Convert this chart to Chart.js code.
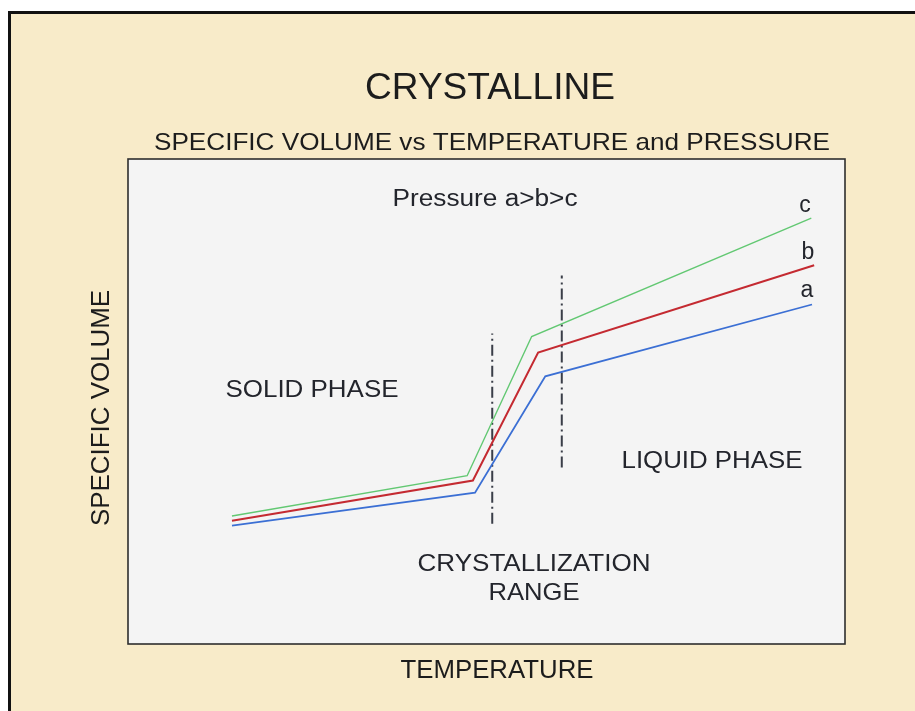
<!DOCTYPE html>
<html>
<head>
<meta charset="utf-8">
<title>Crystalline</title>
<script src="https://cdn.jsdelivr.net/npm/chart.js@4.4.1/dist/chart.umd.min.js"></script>
<style>
  html, body { margin: 0; padding: 0; background: #ffffff; }
  #grafica { display: block; }
</style>
</head>
<body>
<canvas id="grafica" width="915" height="711"></canvas>
<script>
// ── Datos (unidades relativas 0–100) ─────────────────────────────────────────
const tempA = [14.5, 48.4, 58.2, 95.4];
const volA  = [24.4, 31.2, 55.2, 70.0];
const tempB = [14.5, 48.1, 57.2, 95.7];
const volB  = [25.4, 33.7, 60.1, 78.1];
const tempC = [14.5, 47.3, 56.3, 95.3];
const volC  = [26.4, 34.7, 63.4, 87.8];

// Límites del rango de cristalización (líneas punto-raya)
const rangoInicioT = [50.8, 50.8];
const rangoInicioV = [24.8, 64.0];
const rangoFinT    = [60.5, 60.5];
const rangoFinV    = [36.4, 76.0];

const serieNombres = ['a', 'b', 'c'];
const titulo    = 'CRYSTALLINE';
const subtitulo = 'SPECIFIC VOLUME vs TEMPERATURE and PRESSURE';
const ejeX      = 'TEMPERATURE';
const ejeY      = 'SPECIFIC VOLUME';
const notaPresion = 'Pressure a>b>c';
const faseSolida  = 'SOLID PHASE';
const faseLiquida = 'LIQUID PHASE';
const rangoTexto  = ['CRYSTALLIZATION', 'RANGE'];

const puntos = (xs, ys) => xs.map((x, i) => ({ x, y: ys[i] }));

const FUENTE = '"Liberation Sans", Arial, Helvetica, sans-serif';
const TINTA = '#23252c';

// Texto ajustado a un ancho objetivo (la tipografía original es algo más estrecha)
function textoAjustado(ctx, texto, cx, cy, size, ancho) {
    ctx.save();
    ctx.font = `${size}px ${FUENTE}`;
    const w = ctx.measureText(texto).width;
    const k = ancho ? ancho / w : 1;
    ctx.translate(cx, cy);
    ctx.scale(k, 1);
    ctx.textAlign = 'center';
    ctx.textBaseline = 'middle';
    ctx.fillText(texto, 0, 0);
    ctx.restore();
}

const decorado = {
    id: 'decorado',
    beforeDraw(chart) {
        const { ctx, width, height, chartArea: a } = chart;
        ctx.save();
        ctx.fillStyle = '#ffffff';
        ctx.fillRect(0, 0, width, height);
        ctx.fillStyle = '#f8ebc9';
        ctx.fillRect(10, 13, width - 10, height - 13);
        // marco exterior
        ctx.fillStyle = '#111111';
        ctx.fillRect(8, 11, width - 8, 3);
        ctx.fillRect(8, 11, 3, height - 11);
        // caja del gráfico
        ctx.fillStyle = '#f4f4f4';
        ctx.fillRect(a.left, a.top, a.right - a.left, a.bottom - a.top);
        ctx.strokeStyle = '#2e2e2e';
        ctx.lineWidth = 1.6;
        ctx.strokeRect(a.left, a.top, a.right - a.left, a.bottom - a.top);
        ctx.restore();
    },
    afterDraw(chart) {
        const { ctx } = chart;
        ctx.save();
        ctx.fillStyle = '#1c1c1c';
        textoAjustado(ctx, titulo, 490, 89, 36, 250);
        textoAjustado(ctx, subtitulo, 492, 143, 24, 676);
        textoAjustado(ctx, ejeX, 497, 671, 26, 193);

        ctx.save();
        ctx.translate(102, 408);
        ctx.rotate(-Math.PI / 2);
        textoAjustado(ctx, ejeY, 0, 0, 26, 236);
        ctx.restore();

        ctx.fillStyle = TINTA;
        textoAjustado(ctx, notaPresion, 485, 200, 23, 185);
        textoAjustado(ctx, faseSolida, 312, 390, 24, 173);
        textoAjustado(ctx, faseLiquida, 712, 461, 24, 181);
        textoAjustado(ctx, rangoTexto[0], 534, 564, 24, 233);
        textoAjustado(ctx, rangoTexto[1], 534, 593, 24, 91);

        // etiquetas de las series
        textoAjustado(ctx, serieNombres[2], 805, 206, 23);
        textoAjustado(ctx, serieNombres[1], 808, 253, 23);
        textoAjustado(ctx, serieNombres[0], 807, 291, 23);
        ctx.restore();
    },
};

const linea = (label, data, color, ancho, extra = {}) => ({
    label,
    data,
    borderColor: color,
    borderWidth: ancho,
    pointRadius: 0,
    fill: false,
    tension: 0,
    ...extra,
});

new Chart(document.getElementById('grafica'), {
    type: 'line',
    data: {
        datasets: [
            linea(serieNombres[0], puntos(tempA, volA), '#3b6fd4', 1.8),
            linea(serieNombres[1], puntos(tempB, volB), '#c42a31', 2),
            linea(serieNombres[2], puntos(tempC, volC), '#62c872', 1.4),
            linea('inicio', puntos(rangoInicioT, rangoInicioV), '#3a3e48', 2, { borderDash: [11, 4, 2, 4] }),
            linea('fin', puntos(rangoFinT, rangoFinV), '#3a3e48', 2, { borderDash: [11, 4, 2, 4] }),
        ],
    },
    options: {
        responsive: false,
        animation: false,
        layout: { padding: { left: 128, top: 159, right: 70, bottom: 67 } },
        plugins: {
            legend: { display: false },
            tooltip: { enabled: false },
            title: { display: false },
        },
        scales: {
            x: { type: 'linear', min: 0, max: 100, display: false },
            y: { type: 'linear', min: 0, max: 100, display: false },
        },
    },
    plugins: [decorado],
});
</script>
</body>
</html>
